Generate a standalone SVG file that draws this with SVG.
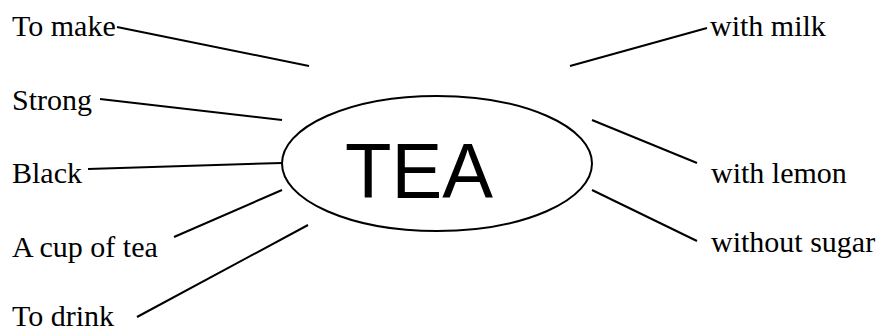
<svg xmlns="http://www.w3.org/2000/svg" width="877" height="333" viewBox="0 0 877 333">
<style>
.lbl{font-family:"Liberation Serif","Times New Roman",serif;font-size:30px;fill:#000}
.c line{stroke:#000;stroke-width:2;stroke-linecap:butt}
</style>
<rect width="877" height="333" fill="#fff"/>
<g id="tea">
<ellipse cx="437" cy="163.5" rx="155" ry="67.5" fill="#fff" stroke="#000" stroke-width="2"/>
<text x="419" y="198" text-anchor="middle" font-family="Liberation Sans,Arial,sans-serif" font-size="78" textLength="148" lengthAdjust="spacingAndGlyphs">TEA</text>
</g>
<g class="c" id="connectors">
<line x1="117" y1="27" x2="309" y2="66"/>
<line x1="100" y1="99" x2="282" y2="120"/>
<line x1="88" y1="169" x2="282" y2="163"/>
<line x1="174" y1="237" x2="282" y2="190"/>
<line x1="137" y1="317" x2="308" y2="225"/>
<line x1="570" y1="66" x2="707" y2="28"/>
<line x1="592" y1="120" x2="697" y2="163"/>
<line x1="592" y1="190" x2="697" y2="241"/>
</g>
<g id="to-make"><text class="lbl" x="12" y="36">To make</text></g>
<g id="strong"><text class="lbl" x="12" y="110">Strong</text></g>
<g id="black"><text class="lbl" x="12" y="183">Black</text></g>
<g id="cup"><text class="lbl" x="12" y="257">A cup of tea</text></g>
<g id="to-drink"><text class="lbl" x="12" y="326">To drink</text></g>
<g id="milk"><text class="lbl" x="710" y="36">with milk</text></g>
<g id="lemon"><text class="lbl" x="711" y="183">with lemon</text></g>
<g id="sugar"><text class="lbl" x="711" y="252">without sugar</text></g>
</svg>
